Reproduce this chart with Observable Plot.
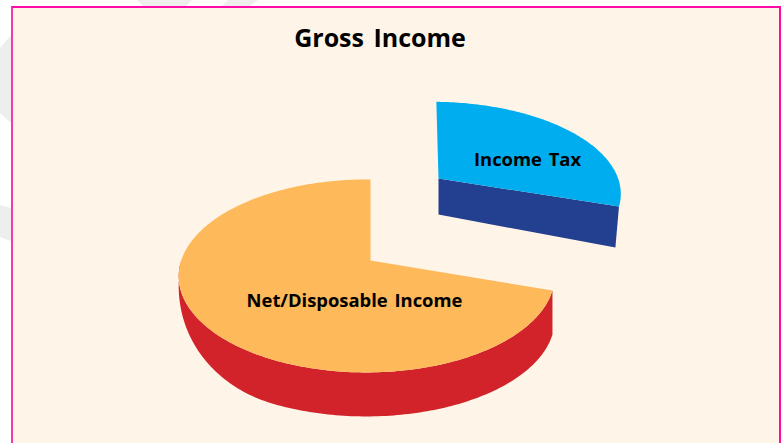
<!DOCTYPE html>
<html>
<head>
<meta charset="utf-8">
<script src="https://cdn.jsdelivr.net/npm/d3@7"></script>
<script src="https://cdn.jsdelivr.net/npm/@observablehq/plot@0.6"></script>
<style>
  html, body { margin: 0; width: 781px; height: 443px; overflow: hidden; background: #fff; }
  .shade { position: absolute; background: #eeeeee; inset: 0; }
  #frame { position: absolute; left: 11px; top: 6px; width: 766px; height: 445px;
           background: #fff4e8; border: 2px solid #ff0aa6; border-left-color: #f63aa6; box-sizing: content-box; }
  #chart { position: absolute; left: 0; top: 0; }
  h1 { position: absolute; left: 0; top: 20px; width: 760px; margin: 0; text-align: center;
       font: 700 25px "Open Sans", sans-serif; color: #000; word-spacing: 3px; }
</style>
</head>
<body>
<div class="shade" style="clip-path: polygon(0 48px, 11px 35px, 11px 123px, 0 113px)"></div>
<div class="shade" style="clip-path: polygon(0 205px, 11px 208px, 11px 241px, 0 237px)"></div>
<div class="shade" style="clip-path: polygon(137px 0, 192px 0, 186px 6px, 143px 6px)"></div>
<div class="shade" style="clip-path: polygon(228px 0, 258px 0, 250px 6px, 222px 6px)"></div>
<div id="frame"></div>
<div id="chart"></div>
<h1>Gross Income</h1>
<script>
const categories = ["Income Tax", "Net/Disposable Income"];
const shares = [30, 70];
const faceColours = ["#00aeef", "#fdb95a"];
const wallColours = ["#233f8f", "#d2232a"];

// One perspective view per slice: the slice is pulled away from the pie, so each has its own.
const views = [
  {cx: 438, cy: 178, a: 185, b: 89, k: 0.16, m: 0.03, skew: -2.5, wall: "cut", depth: 36, flare: 5, pinch: 0.98, labelX: 527, labelY: 160},
  {cx: 370, cy: 260, a: 185.5, b: 94, k: 0.16, m: 0.02, skew: 0, wall: "rim", depth: 44, flare: 0, pinch: 1, labelX: 354, labelY: 301}
];

const deg = Math.PI / 180;
// The wall of the big slice thins out smoothly as it turns away towards the left-hand side.
const thin = u => {
  const t = Math.min(1, Math.max(0, (-u - 0.45) / 0.55));
  return Math.sqrt(1 - t * t);
};

const project = (view, r, angle, low = false) => {
  const u = r * Math.sin(angle), v = r * Math.cos(angle);
  const w = 1 + view.k * v + view.m * u;
  const pinch = low ? view.pinch : 1;
  const drop = low ? (view.depth + view.flare * r) * thin(u) : 0;
  return {
    x: view.cx + pinch * (view.a * u + view.skew * v) / w,
    y: view.cy - view.b * v / w + drop
  };
};

const arcs = d3.pie().sort(null).value(d => d)(shares);
const faces = [], walls = [], labels = [];

arcs.forEach((arc, i) => {
  const view = views[i];
  const steps = d3.range(arc.startAngle, arc.endAngle, deg).concat(arc.endAngle);
  const rim = steps.map(t => project(view, 1, t));
  const centre = project(view, 0, 0);
  [centre, ...rim].forEach(p => faces.push({...p, category: categories[i], colour: faceColours[i]}));
  // Only the front half of the rim is ever seen, so the wall stops where the rim turns back.
  const front = steps.filter(t => Math.cos(t) <= 0);
  const outline = view.wall === "rim"
    ? [...front.map(t => project(view, 1, t)), ...front.slice().reverse().map(t => project(view, 1, t, true))]
    : [centre, rim[rim.length - 1], project(view, 1, arc.endAngle, true), project(view, 0, 0, true)];
  outline.forEach(p => walls.push({...p, category: categories[i], colour: wallColours[i]}));
  labels.push({x: view.labelX, y: view.labelY, category: categories[i]});
});

const polygon = rows => Plot.line(rows, {
  x: "x", y: "y", z: "category", fill: "colour", stroke: "none", curve: "linear-closed"
});

const chart = Plot.plot({
  width: 781,
  height: 443,
  margin: 0,
  x: {domain: [0, 781], range: [0, 781], axis: null},
  y: {domain: [0, 443], range: [0, 443], axis: null},
  style: {background: "transparent", wordSpacing: "2px"},
  marks: [
    polygon(walls),
    polygon(faces),
    Plot.text(labels, {
      x: "x", y: "y", text: "category", fill: "#000",
      fontSize: 18.4, fontWeight: 700, fontFamily: "Open Sans"
    })
  ]
});
document.getElementById("chart").append(chart);
</script>
</body>
</html>
